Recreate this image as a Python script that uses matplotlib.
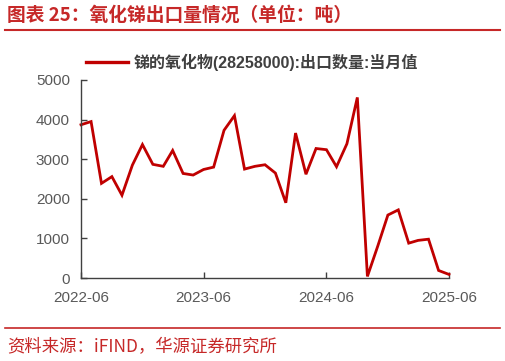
import matplotlib
matplotlib.use("Agg")
import matplotlib.pyplot as plt
import matplotlib.dates as mdates
from matplotlib.lines import Line2D
import pandas as pd

# ─── Data ─────────────────────────────────────────────────────────────────────
start_month = "2022-06"
end_month = "2025-06"
export_tons = [
    3870, 3950, 2390, 2560, 2090, 2850, 3370, 2870, 2820, 3220, 2640, 2600,
    2740, 2800, 3730, 4100, 2750, 2820, 2860, 2650, 1900, 3660, 2620, 3270,
    3240, 2810, 3390, 4560, 40, 810, 1590, 1720, 880, 950, 980, 190,
    90,
]
tick_months = ["2022-06", "2023-06", "2024-06", "2025-06"]
y_ticks = [0, 1000, 2000, 3000, 4000, 5000]

series_label = "锑的氧化物(28258000):出口数量:当月值"
title = "图表 25：氧化锑出口量情况（单位：吨）"
source = "资料来源：iFIND，华源证券研究所"

months = pd.date_range(start_month, end_month, freq="MS")

# ─── Styling ──────────────────────────────────────────────────────────────────
RED = "#C00000"
HEAD_RED = "#C62828"
GREY = "#595959"
SPINE = "#404040"
FONTS = ["Liberation Sans", "Noto Sans CJK SC", "DejaVu Sans"]
plt.rcParams["font.family"] = FONTS

W, H = 506, 361
fig = plt.figure(figsize=(W / 100, H / 100), dpi=100)

# axes placed by pixel coordinates of the reference
left, right, top, bottom = 81, 449, 80, 278
ax = fig.add_axes([left / W, 1 - bottom / H, (right - left) / W, (bottom - top) / H])

ax.plot(months, export_tons, color=RED, linewidth=2.0, solid_joinstyle="miter",
        label=series_label, clip_on=False)

ax.set_xlim(months[0], months[-1])
ax.set_ylim(0, 5000)
ax.set_yticks(y_ticks)
ax.set_xticks(pd.to_datetime(tick_months))
ax.xaxis.set_major_formatter(mdates.DateFormatter("%Y-%m"))

for side in ["top", "right"]:
    ax.spines[side].set_visible(False)
for side in ["left", "bottom"]:
    ax.spines[side].set_color(SPINE)
    ax.spines[side].set_linewidth(1.0)

ax.tick_params(axis="both", direction="in", length=4, width=1.0, color=SPINE,
               labelsize=11, labelcolor=GREY)
ax.tick_params(axis="y", pad=8)
ax.tick_params(axis="x", pad=9)

leg = ax.legend(loc="center left", bbox_to_anchor=(86 / W, 1 - 62 / H),
                bbox_transform=fig.transFigure, frameon=False,
                handlelength=2.6, handletextpad=0.4, borderpad=0,
                borderaxespad=0, prop={"family": FONTS, "size": 11.5, "weight": "bold"})
for t in leg.get_texts():
    t.set_color("#404040")
for h in leg.legend_handles:
    h.set_linewidth(2.4)

# header and footer
fig.text(7 / W, 1 - 15 / H, title, color=HEAD_RED, fontsize=13.5, fontweight="bold",
         va="center", ha="left", family=["Noto Sans CJK SC", "DejaVu Sans"])
fig.add_artist(Line2D([5 / W, 500 / W], [1 - 30 / H, 1 - 30 / H],
                      transform=fig.transFigure, color=HEAD_RED, linewidth=1.5))
fig.add_artist(Line2D([5 / W, 500 / W], [1 - 328 / H, 1 - 328 / H],
                      transform=fig.transFigure, color=HEAD_RED, linewidth=1.2))
fig.text(7 / W, 1 - 347 / H, source, color=HEAD_RED, fontsize=12.5,
         va="center", ha="left", family=["Noto Sans CJK SC", "DejaVu Sans"])

fig.savefig("out.png", dpi=100)
